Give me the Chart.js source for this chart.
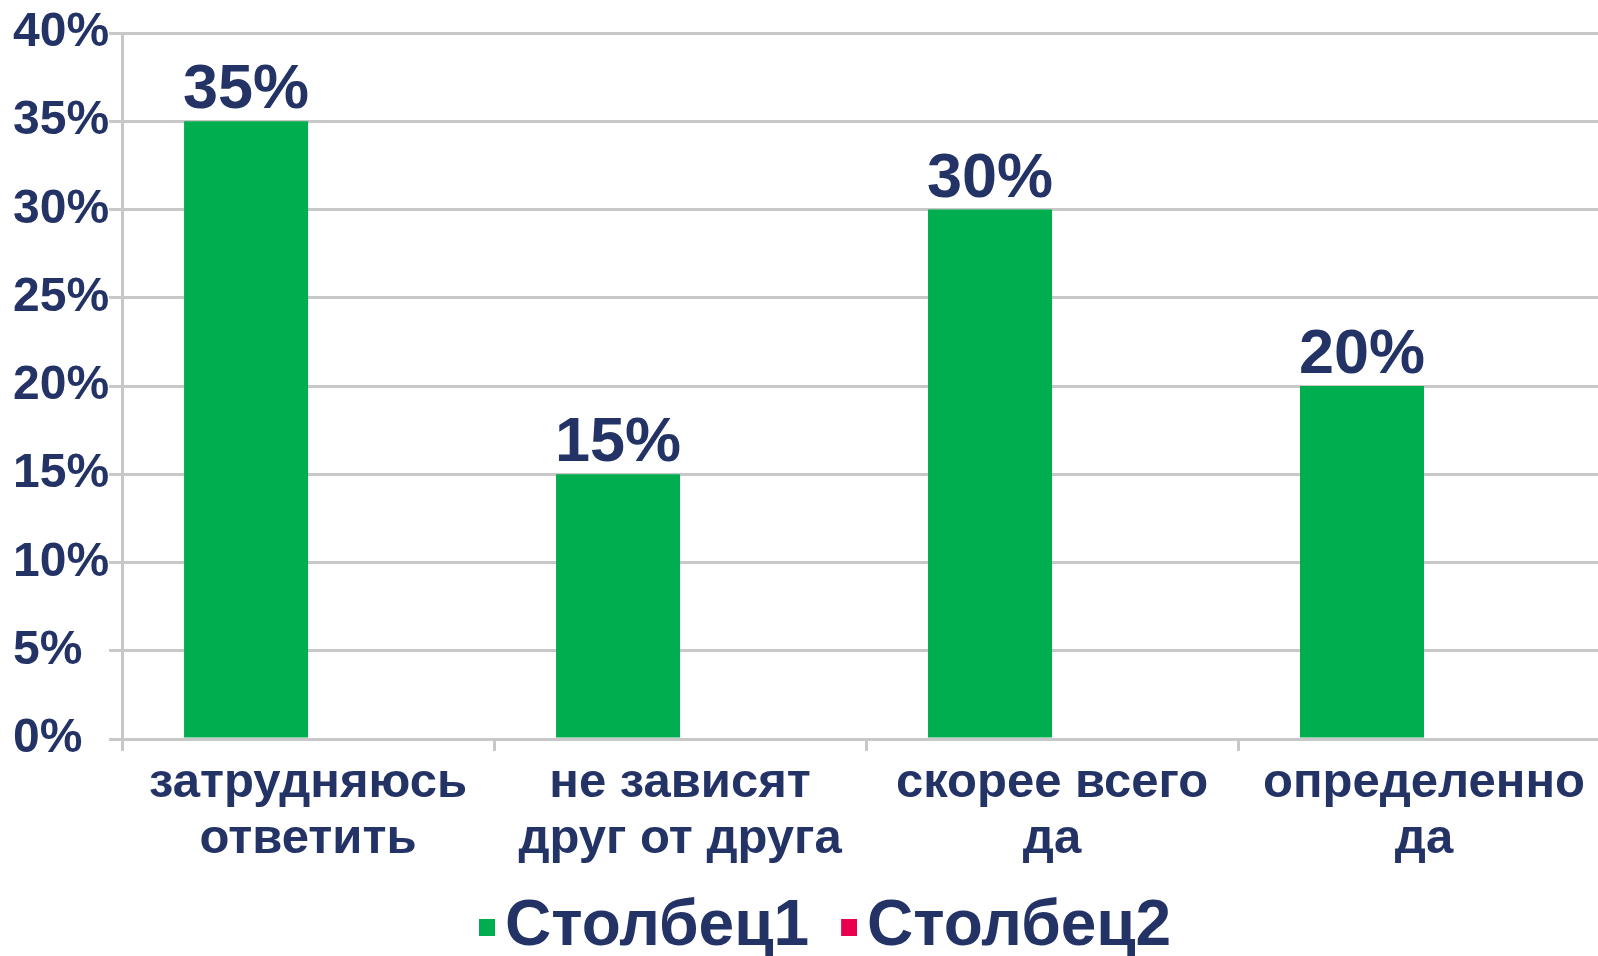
<!DOCTYPE html>
<html><head><meta charset="utf-8">
<script src="https://cdn.jsdelivr.net/npm/chart.js@4/dist/chart.umd.min.js"></script>
<style>
html,body{margin:0;padding:0;background:#fff;overflow:hidden;width:1598px;height:956px}
#wrap{position:absolute;left:0;top:0;width:1612px;height:972px}
canvas{display:block}
</style></head>
<body><div id="wrap"><canvas id="c" width="1612" height="972"></canvas></div>
<script>
const categories = [["затрудняюсь","ответить"],["не зависят","друг от друга"],["скорее всего","да"],["определенно","да"]];
const series1Name = "Столбец1";
const series1Values = [35, 15, 30, 20];
const series2Name = "Столбец2";
const series2Values = [null, null, null, null];
const yMin = 0, yMax = 40, yStep = 5;

const NAVY = '#243366';
const GRID = '#c8c8c8';
const GREEN = '#00AE4F';
const PINK = '#E8004F';
const FONT = "'Liberation Sans', Arial, sans-serif";
const LEGEND_FONT = 64;
const LEGEND_BW = 16;

// legend marker image: a 16px square placed at the right end of a wider transparent image,
// so the gap between marker and text is narrow as in the reference
function markerImage(color) {
  const c = document.createElement('canvas');
  c.width = 60; c.height = 17;
  const g = c.getContext('2d');
  g.fillStyle = color;
  g.fillRect(44, 0, 16, 17);
  return c;
}
const markers = [markerImage(GREEN), markerImage(PINK)];

const valueLabels = {
  id: 'valueLabels',
  afterDatasetsDraw(chart) {
    const ctx = chart.ctx;
    const meta = chart.getDatasetMeta(0);
    ctx.save();
    ctx.font = "bold 63px " + FONT;
    ctx.fillStyle = NAVY;
    ctx.textAlign = 'center';
    ctx.textBaseline = 'alphabetic';
    meta.data.forEach((bar, i) => {
      const v = chart.data.datasets[0].data[i];
      if (v == null) return;
      ctx.fillText(v + '%', bar.x, bar.y - 13);
    });
    ctx.restore();
  }
};

const legendShift = {
  id: 'legendShift',
  afterLayout(chart) {
    const lg = chart.legend;
    if (!lg || !lg.lineWidths) return;
    const pad = lg.options.labels.padding;
    const cursor = (lg.left + pad + lg.right - lg.lineWidths[0]) / 2;
    const d = cursor - 457;
    lg.left -= d; lg.right -= d;
  }
};

new Chart(document.getElementById('c'), {
  type: 'bar',
  data: {
    labels: categories,
    datasets: [
      { label: series1Name, data: series1Values, backgroundColor: GREEN, borderWidth: 0 },
      { label: series2Name, data: series2Values, backgroundColor: PINK, borderWidth: 0 }
    ]
  },
  options: {
    responsive: false,
    animation: false,
    devicePixelRatio: 1,
    layout: { padding: { top: 33, left: 13, right: 2, bottom: 3 } },
    datasets: { bar: { categoryPercentage: 2/3, barPercentage: 1 } },
    plugins: {
      tooltip: { enabled: false },
      title: { display: false },
      legend: {
        position: 'bottom',
        labels: {
          usePointStyle: true,
          pointStyleWidth: LEGEND_BW,
          boxWidth: LEGEND_BW, boxHeight: 17, padding: 10,
          color: NAVY,
          font: { family: FONT, size: LEGEND_FONT, weight: 'bold' },
          generateLabels(chart) {
            const items = Chart.defaults.plugins.legend.labels.generateLabels(chart);
            items.forEach((it, i) => { it.pointStyle = markers[i]; });
            return items;
          }
        }
      }
    },
    scales: {
      x: {
        afterFit(scale) { scale.height = 146; },
        grid: { offset: true, drawOnChartArea: false, drawTicks: true, tickLength: 12, color: GRID, lineWidth: 3 },
        border: { color: GRID, width: 3 },
        ticks: {
          color: NAVY, padding: 4, maxRotation: 0, autoSkip: false,
          font: { family: FONT, size: 49, weight: 'bold', lineHeight: 1.15 }
        }
      },
      y: {
        min: yMin, max: yMax,
        grid: { color: GRID, lineWidth: 3, drawTicks: true, tickLength: 13 },
        border: { color: GRID, width: 3 },
        ticks: {
          stepSize: yStep, color: NAVY, padding: 0, crossAlign: 'far',
          callback: v => v + '%',
          font: { family: FONT, size: 48, weight: 'bold' }
        }
      }
    }
  },
  plugins: [valueLabels, legendShift]
});
</script>
</body></html>
